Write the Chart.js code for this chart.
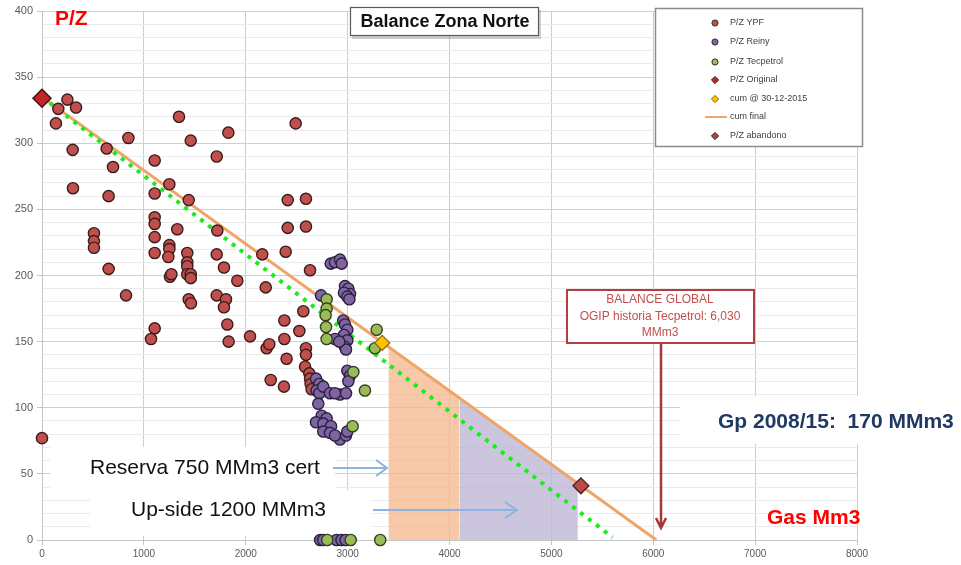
<!DOCTYPE html>
<html>
<head>
<meta charset="utf-8">
<script src="https://cdn.jsdelivr.net/npm/chart.js@4.4.1/dist/chart.umd.min.js"></script>
<style>
  html, body { margin: 0; padding: 0; background: #ffffff; }
  #wrap { width: 961px; height: 565px; position: relative; }
</style>
</head>
<body>
<div id="wrap"><canvas id="chart"></canvas></div>
<script>
// P/Z readings per operator, [gas Mm3, P/Z]
const pzYPF = [
  [0,77],[160,326],[249,333],[334,327],[137,315],[301,295],[635,296],[848,304],
  [1345,320],[1460,302],[1829,308],[2490,315],[1106,287],[1715,290],[697,282],
  [304,266],[654,260],[1250,269],[1106,262],[1440,257],[2412,257],[2591,258],
  [510,232],[510,226],[510,221],[1106,244],[1106,239],[1106,229],[1328,235],
  [1721,234],[2412,236],[2591,237],[1106,217],[1250,223],[1250,220],[1240,214],
  [1426,217],[1426,210],[1426,207],[1426,201],[1460,201],[1460,198],[1256,199],
  [1270,201],[1715,216],[1786,206],[1917,196],[654,205],[825,185],[2162,216],
  [2392,218],[2631,204],[2196,191],[1440,182],[1462,179],[1715,185],[1806,182],
  [1786,176],[1819,163],[1832,150],[1106,160],[1070,152],[2042,154],[2205,145],
  [2231,148],[2379,166],[2379,152],[2526,158],[2565,173],[2591,145],[2591,140],
  [2401,137],[2245,121],[2582,131],[2624,126],[2631,122],[2637,118],[2375,116],
  [2647,114]
];
const pzReiny = [
  [2834,209],[2876,210],[2925,212],[2942,209],
  [2974,192],[3007,190],[3023,186],[2964,187],[2997,184],[3017,182],[2739,185],
  [2957,166],[2974,163],[2997,159],[2964,155],[2997,151],[2974,146],[2984,144],
  [2876,152],[2918,150],[2997,128],[3023,124],[3007,120],
  [2690,122],[2722,118],[2696,113],[2722,111],[2761,116],[2827,111],[2925,110],
  [2984,111],[2876,111],[2712,103],
  [2745,94],[2794,92],[2690,89],[2761,88],[2837,86],[2761,82],[2827,81],
  [2925,76],[2876,79],[2984,79],[2997,82],
  [2730,0],[2760,0],[2890,0],[2940,0],[2980,0]
];
const pzTecpetrol = [
  [2794,182],[2794,175],[2784,170],[2788,161],[2794,152],
  [3285,159],[3268,145],[3170,113],[3056,127],[3049,86],
  [2800,0],[3030,0],[3320,0]
];
const pzOriginal = [[0,334]];
const cum2015 = [[3340,149]];
const pzAbandono = [[5290,41]];
// material balance straight lines
const cumFinal = [[0,335],[6030,0]];
const trendTecpetrol = [[0,335],[5600,2]];
// shaded volumes under the final line
const reservaCert = [[3400,146],[4100,107]];
const upSide = [[4100,107],[5260,43]];

const xTickValues = [0,1000,2000,3000,4000,5000,6000,7000,8000];
const yTickValues = [0,50,100,150,200,250,300,350,400];

const legendLabels = ['P/Z YPF','P/Z Reiny','P/Z Tecpetrol','P/Z Original','cum @ 30-12-2015','cum final','P/Z abandono'];

const toXY = arr => arr.map(([x, y]) => ({ x, y }));

const RED = '#C0504D', PURPLE = '#8064A2', GREEN = '#9BBB59';

const overlay = {
  id: 'overlay',
  beforeDatasetsDraw(chart) {
    const c = chart.ctx;
    c.save();
    c.fillStyle = '#ffffff';
    c.fillRect(50, 447, 285, 43);
    c.fillRect(90, 490, 282, 46);
    c.fillRect(680, 396, 281, 48);
    c.restore();
  },
  afterDraw(chart) {
    const c = chart.ctx;
    c.save();

    // chart title
    c.fillStyle = 'rgba(0,0,0,0.18)';
    c.fillRect(352, 10, 189, 29);
    c.fillStyle = '#ffffff';
    c.fillRect(350, 7, 189, 29);
    c.strokeStyle = '#595959';
    c.lineWidth = 1.2;
    c.strokeRect(350.5, 7.5, 188, 28);
    c.fillStyle = '#111111';
    c.font = 'bold 18px "Liberation Sans", Arial, sans-serif';
    c.textAlign = 'center';
    c.textBaseline = 'middle';
    c.fillText('Balance Zona Norte', 445, 22);

    // axis captions
    c.fillStyle = '#FF0000';
    c.font = 'bold 21px "Liberation Sans", Arial, sans-serif';
    c.textAlign = 'left';
    c.fillText('P/Z', 55, 19);
    c.fillText('Gas Mm3', 767, 518);

    c.fillStyle = '#1F3864';
    c.font = 'bold 21px "Liberation Sans", Arial, sans-serif';
    c.fillText('Gp 2008/15:  170 MMm3', 718, 422);

    c.fillStyle = '#111111';
    c.font = '21px "Liberation Sans", Arial, sans-serif';
    c.fillText('Reserva 750 MMm3 cert', 90, 468);
    c.fillText('Up-side 1200 MMm3', 131, 510);

    // blue pointers to the shaded volumes
    c.strokeStyle = '#8DB3E2';
    c.lineWidth = 2;
    c.beginPath();
    c.moveTo(333, 468); c.lineTo(387, 468);
    c.moveTo(376, 460); c.lineTo(387, 468); c.lineTo(376, 476);
    c.moveTo(373, 510); c.lineTo(517, 510);
    c.moveTo(505, 502); c.lineTo(517, 510); c.lineTo(505, 518);
    c.stroke();

    // OGIP callout
    c.fillStyle = '#ffffff';
    c.fillRect(566, 289, 189, 55);
    c.strokeStyle = '#B0403F';
    c.lineWidth = 2;
    c.strokeRect(567, 290, 187, 53);
    c.fillStyle = '#C0504D';
    c.font = '12px "Liberation Sans", Arial, sans-serif';
    c.textAlign = 'center';
    c.fillText('BALANCE GLOBAL', 660, 300);
    c.fillText('OGIP historia Tecpetrol: 6,030', 660, 317);
    c.fillText('MMm3', 660, 333);
    c.strokeStyle = '#A5373A';
    c.lineWidth = 2.5;
    c.beginPath();
    c.moveTo(661, 344); c.lineTo(661, 528);
    c.moveTo(656, 518); c.lineTo(661, 528); c.lineTo(666, 518);
    c.stroke();

    // legend
    const lx = 655, ly = 8, lw = 207, lh = 138;
    c.fillStyle = '#ffffff';
    c.fillRect(lx, ly, lw, lh);
    c.strokeStyle = '#8c8c8c';
    c.lineWidth = 1.5;
    c.strokeRect(lx + 0.5, ly + 0.5, lw, lh);
    const rowsY = [23, 42, 62, 80, 99, 117, 136];
    c.font = '9px "Liberation Sans", Arial, sans-serif';
    c.textAlign = 'left';
    c.textBaseline = 'middle';
    legendLabels.forEach((label, i) => {
      const y = rowsY[i];
      const mx = 715;
      c.lineWidth = 1;
      if (i <= 2) {
        c.fillStyle = [RED, PURPLE, GREEN][i];
        c.strokeStyle = '#3a2a2a';
        c.beginPath(); c.arc(mx, y, 3.1, 0, Math.PI * 2); c.fill(); c.stroke();
      } else if (i === 5) {
        c.strokeStyle = '#F0A868';
        c.lineWidth = 2;
        c.beginPath(); c.moveTo(705, y); c.lineTo(727, y); c.stroke();
      } else {
        c.fillStyle = i === 3 ? '#C0262B' : (i === 4 ? '#FFC000' : '#A0484A');
        c.strokeStyle = i === 4 ? '#8a6a00' : '#4a1a1a';
        c.beginPath();
        c.moveTo(mx, y - 3.6); c.lineTo(mx + 3.6, y); c.lineTo(mx, y + 3.6); c.lineTo(mx - 3.6, y);
        c.closePath(); c.fill(); c.stroke();
      }
      c.fillStyle = '#404040';
      c.fillText(label, 730, y);
    });
    c.restore();
  }
};

const pointSet = (label, data, bg, border, order) => ({
  label, data: toXY(data), backgroundColor: bg, borderColor: border,
  pointRadius: 5.6, pointBorderWidth: 1.4, pointHoverRadius: 5.6, order, clip: false
});

new Chart(document.getElementById('chart'), {
  type: 'scatter',
  data: {
    datasets: [
      pointSet('P/Z YPF', pzYPF, RED, '#3b1c1c', 3),
      pointSet('P/Z Reiny', pzReiny, PURPLE, '#2a2040', 2),
      pointSet('P/Z Tecpetrol', pzTecpetrol, GREEN, '#34401e', 1),
      { label: 'P/Z Original', data: toXY(pzOriginal), pointStyle: 'rectRot', pointRadius: 9,
        backgroundColor: '#C0262B', borderColor: '#4a0f0f', pointBorderWidth: 1.5, order: 0, clip: false },
      { label: 'cum @ 30-12-2015', data: toXY(cum2015), pointStyle: 'rectRot', pointRadius: 7.5,
        backgroundColor: '#FFC000', borderColor: '#8a6a00', pointBorderWidth: 1.2, order: 0, clip: false },
      { label: 'cum final', data: toXY(cumFinal), showLine: true, borderColor: '#EFA468',
        borderWidth: 3, pointRadius: 0, fill: false, order: 6 },
      { label: 'P/Z abandono', data: toXY(pzAbandono), pointStyle: 'rectRot', pointRadius: 8,
        backgroundColor: '#B84A48', borderColor: '#4a1a1a', pointBorderWidth: 1.2, order: 0, clip: false },
      { label: 'tendencia', data: toXY(trendTecpetrol), showLine: true, borderColor: '#19EE19',
        borderWidth: 4, borderDash: [4, 6], pointRadius: 0, fill: false, order: 5 },
      { label: 'Reserva 750', data: toXY(reservaCert), showLine: true, borderWidth: 0,
        borderColor: 'rgba(0,0,0,0)', backgroundColor: 'rgba(244,183,140,0.75)', pointRadius: 0,
        fill: 'origin', order: 10 },
      { label: 'Up-side 1200', data: toXY(upSide), showLine: true, borderWidth: 0,
        borderColor: 'rgba(0,0,0,0)', backgroundColor: 'rgba(190,182,212,0.8)', pointRadius: 0,
        fill: 'origin', order: 10 }
    ]
  },
  options: {
    responsive: true,
    maintainAspectRatio: false,
    animation: false,
    devicePixelRatio: 1,
    layout: { padding: { top: 11, right: 104, left: 0, bottom: 0 } },
    plugins: { legend: { display: false }, tooltip: { enabled: false } },
    scales: {
      x: {
        type: 'linear', min: 0, max: 8000,
        afterFit: s => { s.height = 25; },
        ticks: {
          stepSize: 1000, padding: 3, color: '#595959',
          font: { family: '"Liberation Sans Narrow", "Liberation Sans", sans-serif', size: 10 },
          callback: v => xTickValues.includes(v) ? String(v) : ''
        },
        grid: { color: '#cdcdcd', lineWidth: 1, tickLength: 5, tickColor: '#c4c4c4' },
        border: { color: '#c4c4c4', width: 1 }
      },
      y: {
        type: 'linear', min: 0, max: 400,
        afterFit: s => { s.width = 42; },
        ticks: {
          stepSize: 10, padding: 4, color: '#595959', autoSkip: false,
          font: { family: '"Liberation Sans Narrow", "Liberation Sans", sans-serif', size: 11 },
          callback: v => yTickValues.includes(v) ? String(v) : ''
        },
        grid: {
          color: ctx => (ctx.tick && ctx.tick.value % 50 === 0) ? '#cfcfcf' : '#ebebeb',
          lineWidth: 1, tickLength: 5,
          tickColor: ctx => (ctx.tick && ctx.tick.value % 50 === 0) ? '#c4c4c4' : 'rgba(0,0,0,0)'
        },
        border: { color: '#c4c4c4', width: 1 }
      }
    }
  },
  plugins: [overlay]
});
</script>
</body>
</html>
